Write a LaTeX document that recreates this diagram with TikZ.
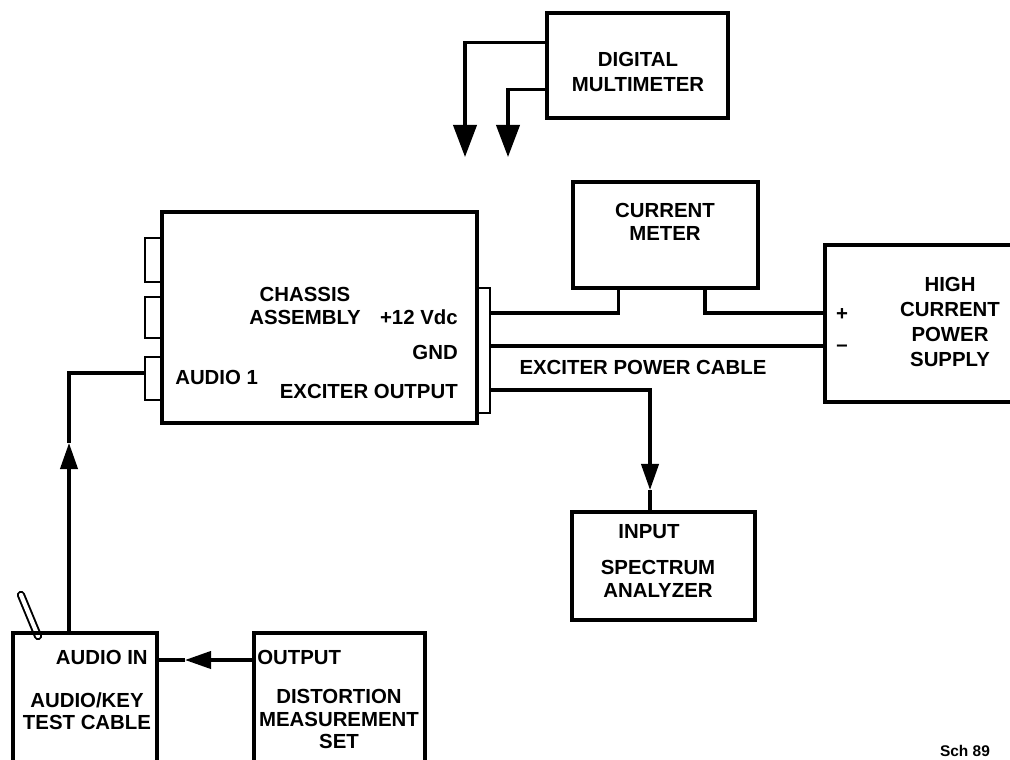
\documentclass[tikz,border=0pt]{standalone}
\usepackage{fontspec}
\setmainfont{Liberation Sans}
\usetikzlibrary{arrows.meta,calc,fit}
\newcommand{\lblfont}{\fontsize{14.5}{16}\selectfont\bfseries}
\newcommand{\widefont}{\fontsize{14.5}{17.7}\selectfont\bfseries}
\tikzset{
  box/.style={draw=black, line width=2.4pt, inner sep=0pt},
  tab/.style={draw=black, line width=1.9pt, inner sep=0pt},
  lbl/.style={font=\lblfont, align=center, inner sep=0pt},
  widelbl/.style={font=\widefont, align=center, inner sep=0pt},
  wire/.style={line width=2.4pt},
  arrowline/.style={-{Triangle[length=6.5mm,width=4.3mm]}, line width=2.4pt},
  bigarrow/.style={-{Triangle[length=8mm,width=5.8mm]}, line width=2.4pt},
  whip/.style={double=white, double distance=3pt, line width=1.4pt, line cap=round}
}

\begin{document}
\begin{tikzpicture}[x=0.025cm, y=-0.025cm]
\useasboundingbox (0,0) rectangle (1010,760);
% whip on the test cable
\draw[whip] (21,595) -- (38,636);
% boxes
\node[box, fit={(547,13) (728,118)}] (dmm) {};
\node[box, fit={(162,212) (477,423)}] (chassis) {};
\node[tab, fit={(145,238) (162,282)}] (tabA) {};
\node[tab, fit={(145,297) (162,338)}] (tabB) {};
\node[tab, fit={(145,357) (162,400)}] (tabC) {};
\node[tab, fit={(477,288) (490,413)}] (tabR) {};
\node[box, fit={(573,182) (758,288)}] (meter) {};
\node[box, fit={(825,245) (1030,402)}] (supply) {};
\node[box, fit={(572,512) (755,620)}] (spec) {};
\node[box, fit={(13,633) (157,790)}] (audiokey) {};
\node[box, fit={(254,633) (425,790)}] (dist) {};
% labels
\node[widelbl] (dmmlbl) at (638,72) {DIGITAL\\MULTIMETER};
\node[lbl] (meterlbl) at (665,222) {CURRENT\\METER};
\node[lbl] (chlbl) at (305,306) {CHASSIS\\ASSEMBLY};
\node[lbl, anchor=east] (vdclbl) at (458,317) {+12 Vdc};
\node[lbl, anchor=east] (gndlbl) at (458,352) {GND};
\node[lbl, anchor=west] (aud1lbl) at (175,377) {AUDIO 1};
\node[lbl, anchor=east] (exclbl) at (458,391) {EXCITER OUTPUT};
\node[lbl] (cablelbl) at (643,367) {EXCITER POWER CABLE};
\node[lbl] (pluslbl) at (842,315) {+};
\node[lbl] (minuslbl) at (842,348) {–};
\node[widelbl] (supplylbl) at (950,322) {HIGH\\CURRENT\\POWER\\SUPPLY};
\node[lbl] (inlbl) at (649,532) {INPUT};
\node[lbl] (speclbl) at (658,579) {SPECTRUM\\ANALYZER};
\node[lbl, anchor=east] (audinlbl) at (148,657) {AUDIO IN};
\node[lbl] (aklbl) at (87,711) {AUDIO/KEY\\TEST CABLE};
\node[lbl, anchor=west] (outlbl) at (257,657) {OUTPUT};
\node[lbl] (distlbl) at (339,719) {DISTORTION\\MEASUREMENT\\SET};
\node[font=\fontsize{11}{13}\selectfont\bfseries, anchor=base, inner sep=0pt] (schlbl) at (965,756) {Sch 89};
% ports
\coordinate (p12) at (490,313);
\coordinate (pgnd) at (490,346);
\coordinate (pexc) at (490,390);
\coordinate (meterL) at ($(meter.south west)!0.25!(meter.south east)$);
\coordinate (meterR) at ($(meter.south west)!0.71!(meter.south east)$);
\coordinate (excdown) at (650,490);
\coordinate (spectop) at (650,512);
\coordinate (aktop) at (69,633);
\coordinate (audup) at (69,443);
\coordinate (paud) at (145,373);
\coordinate (pout) at (254,660);
\coordinate (outleft) at (185,660);
\coordinate (dmmA) at ($(dmm.north west)!0.29!(dmm.south west)$);
\coordinate (dmmB) at ($(dmm.north west)!0.72!(dmm.south west)$);
\coordinate (probeA) at (465,157);
\coordinate (probeB) at (508,157);
% power cable
\draw[wire] (p12) -| (meterL);
\draw[wire] (meterR) |- (supply.west |- p12);
\draw[wire] (pgnd) -- (supply.west |- pgnd);
% signal paths
\draw[arrowline] (pexc) -| (excdown);
\draw[wire] (excdown) -- (spectop);
\draw[arrowline] (aktop) -- (audup);
\draw[wire] (audup) |- (paud);
\draw[arrowline] (pout) -- (outleft);
\draw[wire] (outleft) -- (audiokey.east |- pout);
% meter probes
\draw[bigarrow] (dmmA) -| (probeA);
\draw[bigarrow] (dmmB) -| (probeB);
\end{tikzpicture}
\end{document}
